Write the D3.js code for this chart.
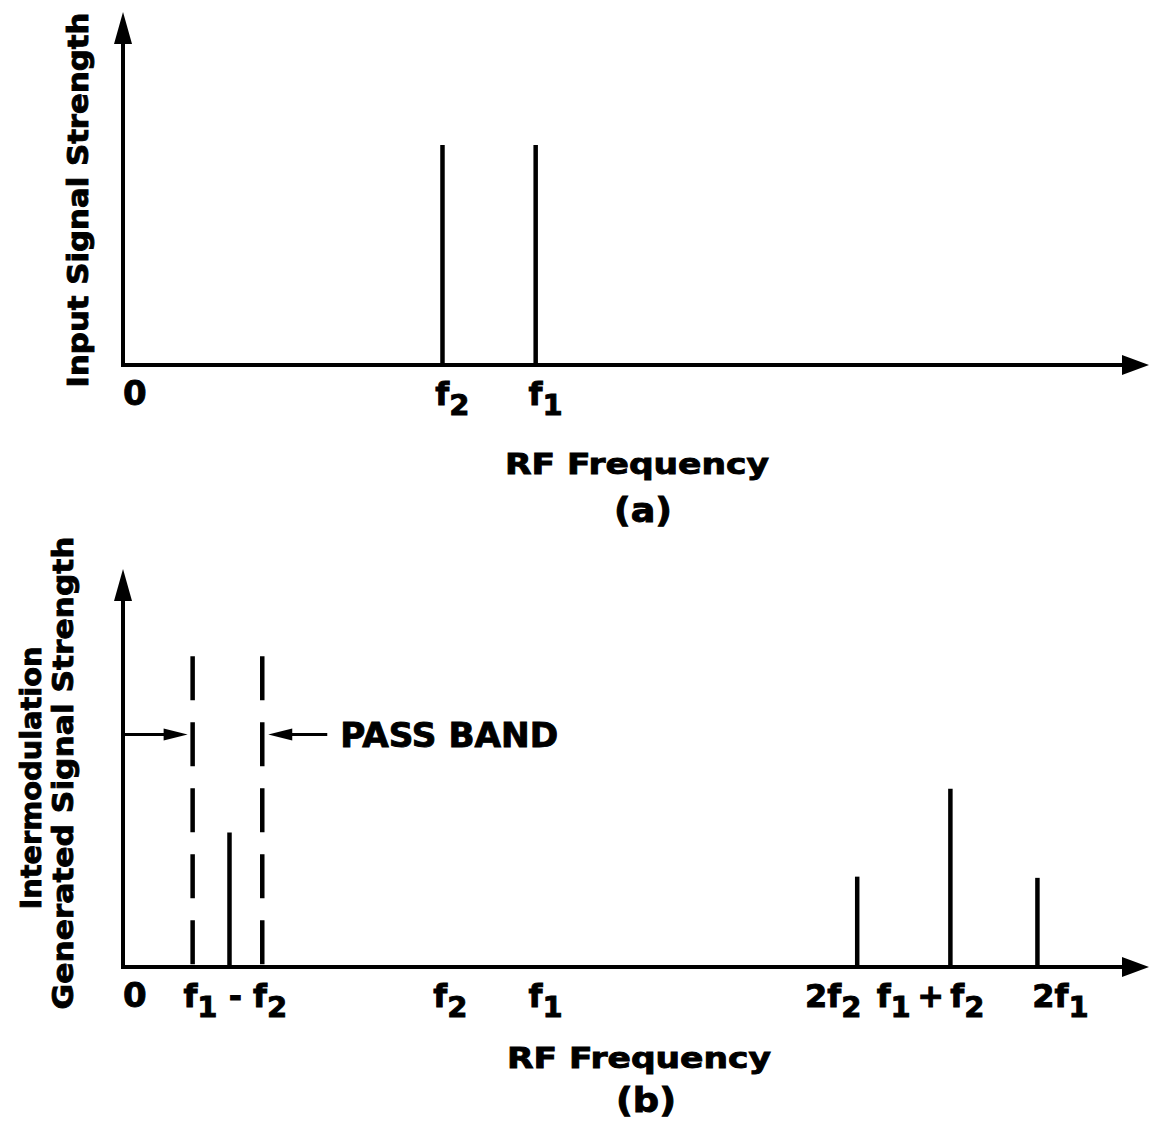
<!DOCTYPE html>
<html>
<head>
<meta charset="utf-8">
<script src="https://cdn.jsdelivr.net/npm/d3@7"></script>
<style>
  body { margin: 0; background: #fff; }
  text { font-family: "DejaVu Sans", sans-serif; font-weight: bold; fill: #000; stroke: #000; stroke-width: 0.9px; }
</style>
</head>
<body>
<div id="chart"></div>
<script>
// frequency / strength in arbitrary schematic units (axis arrow tip = 10)
const topFreqs = [3.12, 4.03];          // f2, f1
const topStrengths = [6.23, 6.23];

const botFreqs = [1.04, 7.17, 8.08, 8.93];   // f1-f2, 2f2, f1+f2, 2f1
const botStrengths = [3.38, 2.27, 4.48, 2.24];

const passBand = [0.68, 1.36];          // dashed pass band edges
const passBandTop = 7.81;
const passArrowLevel = 5.84;

// tick labels: [start position, pieces [text, isSubscript]]
const topTickPos = [0, 3.05, 3.96];
const topTickText = [[["0", 0]], [["f", 0], ["2", 1]], [["f", 0], ["1", 1]]];
const botTickPos = [0, 0.59, 3.03, 3.96, 6.66, 7.36, 8.88];
const botTickText = [
  [["0", 0]],
  [["f", 0], ["1", 1], [" - ", 0], ["f", 0], ["2", 1]],
  [["f", 0], ["2", 1]],
  [["f", 0], ["1", 1]],
  [["2f", 0], ["2", 1]],
  [["f", 0], ["1", 1], ["\u2009+\u2009", 0], ["f", 0], ["2", 1]],
  [["2f", 0], ["1", 1]]
];

const W = 1149, H = 1130;
const svg = d3.select("#chart").append("svg")
  .attr("width", W).attr("height", H);
svg.append("rect").attr("width", W).attr("height", H).attr("fill", "#fff");

const x = d3.scaleLinear().domain([0, 10]).range([123, 1147]);
const yTop = d3.scaleLinear().domain([0, 10]).range([365, 12]);
const yBot = d3.scaleLinear().domain([0, 10]).range([967, 569]);

function drawAxes(y) {
  const x0 = x(0), y0 = y(0);
  const tipY = y(10), tipX = W;
  // axis lines
  svg.append("path")
    .attr("d", `M${x0},${tipY + 28} L${x0},${y0} L${tipX - 24},${y0}`)
    .attr("fill", "none").attr("stroke", "#000")
    .attr("stroke-width", 4).attr("stroke-linejoin", "miter");
  // arrow heads
  svg.append("path")
    .attr("d", `M${x0},${tipY} L${x0 - 9},${tipY + 32} L${x0 + 9},${tipY + 32} Z`)
    .attr("fill", "#000");
  svg.append("path")
    .attr("d", `M${tipX},${y0} L${tipX - 27},${y0 - 10} L${tipX - 27},${y0 + 10} Z`)
    .attr("fill", "#000");
}

function drawTicks(y, pos, texts) {
  texts.forEach((pieces, i) => {
    const t = svg.append("text")
      .attr("x", x(pos[i]))
      .attr("y", y(0) + 40)
      .attr("font-size", 32)
      .attr("xml:space", "preserve");
    let prevSub = 0;
    pieces.forEach(([s, sub]) => {
      let dy = 0;
      if (sub && !prevSub) dy = 10;
      if (!sub && prevSub) dy = -10;
      t.append("tspan")
        .attr("dy", dy)
        .attr("font-size", sub ? 29 : (s === "0" ? 34 : 32))
        .text(s);
      prevSub = sub;
    });
  });
}

function centerText(label, cx, cy, size, len) {
  svg.append("text")
    .attr("x", cx).attr("y", cy)
    .attr("text-anchor", "middle")
    .attr("font-size", size)
    .attr("textLength", len)
    .attr("lengthAdjust", "spacingAndGlyphs")
    .text(label);
}

function yLabel(label, bx, cy, size, len) {
  svg.append("text")
    .attr("transform", `translate(${bx},${cy}) rotate(-90)`)
    .attr("text-anchor", "middle")
    .attr("font-size", size)
    .attr("textLength", len)
    .attr("lengthAdjust", "spacingAndGlyphs")
    .text(label);
}

/* ---------- panel (a) ---------- */
drawAxes(yTop);

svg.selectAll(".line-a")
  .data(topFreqs)
  .enter().append("line")
  .attr("class", "line-a")
  .attr("x1", d => x(d)).attr("x2", d => x(d))
  .attr("y1", yTop(0))
  .attr("y2", (d, i) => yTop(topStrengths[i]))
  .attr("stroke", "#000").attr("stroke-width", 4.5);

drawTicks(yTop, topTickPos, topTickText);
centerText("RF  Frequency", 637, 474, 29, 264);
centerText("(a)", 643, 522, 33, 58);
yLabel("Input Signal Strength", 88, 200, 29, 375);

/* ---------- panel (b) ---------- */
drawAxes(yBot);

svg.selectAll(".pass")
  .data(passBand)
  .enter().append("line")
  .attr("class", "pass")
  .attr("x1", d => x(d)).attr("x2", d => x(d))
  .attr("y1", yBot(passBandTop))
  .attr("y2", yBot(0))
  .attr("stroke", "#000").attr("stroke-width", 4.5)
  .attr("stroke-dasharray", "44 22");

svg.selectAll(".line-b")
  .data(botFreqs)
  .enter().append("line")
  .attr("class", "line-b")
  .attr("x1", d => x(d)).attr("x2", d => x(d))
  .attr("y1", yBot(0))
  .attr("y2", (d, i) => yBot(botStrengths[i]))
  .attr("stroke", "#000").attr("stroke-width", 4.5);

// pass band arrows
const ay = yBot(passArrowLevel);
const leftEnd = x(passBand[0]) - 5;
svg.append("line")
  .attr("x1", x(0) + 2).attr("x2", leftEnd - 16)
  .attr("y1", ay).attr("y2", ay)
  .attr("stroke", "#000").attr("stroke-width", 3);
svg.append("path")
  .attr("d", `M${leftEnd},${ay} L${leftEnd - 24},${ay - 6} L${leftEnd - 24},${ay + 6} Z`)
  .attr("fill", "#000");
const rightEnd = x(passBand[1]) + 6;
svg.append("line")
  .attr("x1", rightEnd + 16).attr("x2", rightEnd + 59)
  .attr("y1", ay).attr("y2", ay)
  .attr("stroke", "#000").attr("stroke-width", 3);
svg.append("path")
  .attr("d", `M${rightEnd},${ay} L${rightEnd + 24},${ay - 6} L${rightEnd + 24},${ay + 6} Z`)
  .attr("fill", "#000");
svg.append("text")
  .attr("x", rightEnd + 72).attr("y", ay + 12)
  .attr("font-size", 33)
  .attr("textLength", 218)
  .attr("lengthAdjust", "spacingAndGlyphs")
  .text("PASS BAND");

drawTicks(yBot, botTickPos, botTickText);
centerText("RF  Frequency", 639, 1068, 29, 264);
centerText("(b)", 646, 1112, 33, 60);
yLabel("Intermodulation", 41, 778, 28, 263);
yLabel("Generated Signal Strength", 73, 773, 29, 473);
</script>
</body>
</html>
